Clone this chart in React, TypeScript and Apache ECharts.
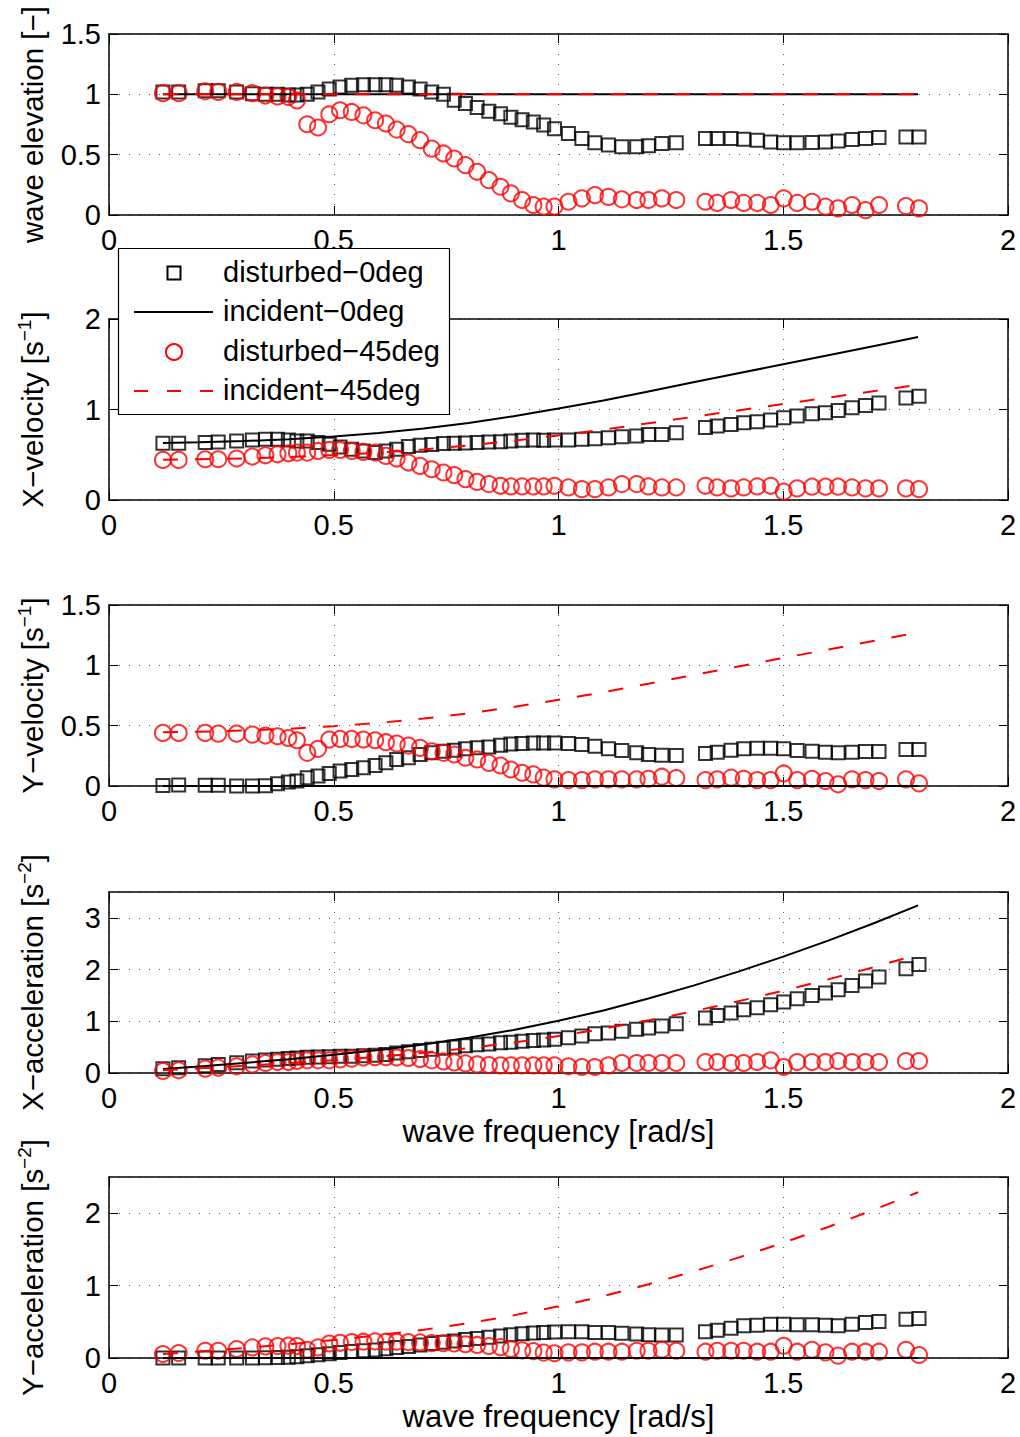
import React, { useEffect, useRef } from 'react';
import * as echarts from 'echarts';

// ---------------- data ----------------
const freq = [
  0.12, 0.155, 0.214, 0.243, 0.284, 0.319, 0.348, 0.375, 0.399, 0.418,
  0.441, 0.465, 0.49, 0.514, 0.54, 0.566, 0.592, 0.616, 0.64, 0.666,
  0.692, 0.718, 0.744, 0.768, 0.793, 0.819, 0.845, 0.871, 0.894, 0.919,
  0.944, 0.967, 0.991, 1.022, 1.052, 1.081, 1.111, 1.141, 1.174, 1.2,
  1.23, 1.262, 1.327, 1.353, 1.384, 1.412, 1.442, 1.472, 1.501, 1.531,
  1.564, 1.594, 1.622, 1.653, 1.683, 1.713, 1.773, 1.802,
];

const elevDist0 = [
  1.02, 1.02, 1.03, 1.03, 1.02, 1.005, 1.0, 1.0, 0.995, 0.995,
  1.0, 1.02, 1.045, 1.06, 1.075, 1.08, 1.08, 1.08, 1.075, 1.06,
  1.045, 1.02, 1.0, 0.95, 0.925, 0.89, 0.86, 0.84, 0.81, 0.79,
  0.77, 0.745, 0.715, 0.675, 0.634, 0.598, 0.58, 0.565, 0.565, 0.573,
  0.592, 0.598, 0.634, 0.634, 0.634, 0.628, 0.62, 0.606, 0.598, 0.598,
  0.6, 0.606, 0.614, 0.625, 0.634, 0.642, 0.647, 0.647,
];
const elevDist45 = [
  1.01, 1.01, 1.025, 1.02, 1.02, 1.01, 0.99, 0.983, 0.978, 0.95,
  0.752, 0.725, 0.835, 0.868, 0.854, 0.826, 0.785, 0.758, 0.708, 0.67,
  0.62, 0.55, 0.51, 0.468, 0.413, 0.358, 0.289, 0.234, 0.179, 0.124,
  0.083, 0.069, 0.07, 0.11, 0.138, 0.165, 0.15, 0.13, 0.124, 0.124,
  0.138, 0.124, 0.11, 0.1, 0.124, 0.1, 0.1, 0.083, 0.138, 0.1,
  0.11, 0.069, 0.055, 0.083, 0.04, 0.083, 0.074, 0.055,
];
const xVelDist0 = [
  0.626, 0.626, 0.634, 0.641, 0.652, 0.663, 0.67, 0.67, 0.663, 0.652,
  0.652, 0.634, 0.615, 0.586, 0.56, 0.542, 0.524, 0.542, 0.56, 0.59,
  0.604, 0.612, 0.623, 0.626, 0.63, 0.634, 0.641, 0.645, 0.652, 0.66,
  0.663, 0.66, 0.663, 0.663, 0.67, 0.678, 0.689, 0.7, 0.707, 0.725,
  0.725, 0.744, 0.8, 0.817, 0.835, 0.853, 0.864, 0.883, 0.908, 0.927,
  0.952, 0.963, 0.989, 1.018, 1.044, 1.073, 1.128, 1.147,
];
const xVelDist45 = [
  0.443, 0.443, 0.45, 0.45, 0.458, 0.48, 0.494, 0.505, 0.516, 0.524,
  0.524, 0.542, 0.553, 0.553, 0.542, 0.531, 0.524, 0.487, 0.458, 0.414,
  0.377, 0.34, 0.304, 0.275, 0.231, 0.2, 0.176, 0.157, 0.15, 0.15,
  0.15, 0.15, 0.157, 0.139, 0.12, 0.12, 0.139, 0.176, 0.176, 0.15,
  0.139, 0.139, 0.157, 0.139, 0.128, 0.139, 0.15, 0.157, 0.092, 0.128,
  0.147, 0.147, 0.147, 0.139, 0.128, 0.128, 0.128, 0.12,
];
const yVelDist0 = [
  0.005, 0.008, 0.006, 0.006, 0, 0, 0.003, 0.019, 0.033, 0.041,
  0.069, 0.082, 0.104, 0.124, 0.137, 0.151, 0.17, 0.192, 0.22, 0.234,
  0.261, 0.275, 0.288, 0.297, 0.308, 0.316, 0.324, 0.338, 0.349, 0.352,
  0.357, 0.357, 0.357, 0.352, 0.343, 0.33, 0.308, 0.294, 0.275, 0.261,
  0.255, 0.253, 0.269, 0.28, 0.297, 0.308, 0.313, 0.313, 0.308, 0.294,
  0.288, 0.28, 0.275, 0.28, 0.286, 0.286, 0.302, 0.302,
];
const yVelDist45 = [
  0.44, 0.44, 0.44, 0.434, 0.434, 0.426, 0.418, 0.412, 0.398, 0.379,
  0.275, 0.308, 0.385, 0.39, 0.39, 0.385, 0.379, 0.363, 0.352, 0.335,
  0.316, 0.288, 0.275, 0.261, 0.234, 0.22, 0.192, 0.17, 0.137, 0.11,
  0.096, 0.069, 0.055, 0.049, 0.049, 0.055, 0.055, 0.055, 0.055, 0.06,
  0.077, 0.066, 0.049, 0.055, 0.069, 0.06, 0.049, 0.049, 0.104, 0.049,
  0.06, 0.041, 0.014, 0.055, 0.049, 0.041, 0.055, 0.022,
];
const xAccDist0 = [
  0.08, 0.1, 0.142, 0.162, 0.2, 0.23, 0.25, 0.265, 0.282, 0.292,
  0.305, 0.31, 0.315, 0.322, 0.325, 0.335, 0.345, 0.36, 0.385, 0.41,
  0.435, 0.458, 0.48, 0.505, 0.528, 0.548, 0.563, 0.583, 0.597, 0.615,
  0.628, 0.64, 0.652, 0.683, 0.715, 0.76, 0.773, 0.805, 0.844, 0.869,
  0.908, 0.953, 1.062, 1.114, 1.159, 1.223, 1.262, 1.32, 1.372, 1.436,
  1.5, 1.545, 1.61, 1.693, 1.777, 1.854, 2.015, 2.099,
];
const xAccDist45 = [
  0.039, 0.052, 0.084, 0.103, 0.129, 0.167, 0.193, 0.212, 0.212, 0.232,
  0.245, 0.245, 0.245, 0.264, 0.277, 0.3, 0.305, 0.305, 0.3, 0.29,
  0.27, 0.245, 0.225, 0.205, 0.185, 0.167, 0.155, 0.148, 0.148, 0.148,
  0.148, 0.148, 0.148, 0.129, 0.116, 0.116, 0.148, 0.193, 0.193, 0.193,
  0.193, 0.193, 0.212, 0.212, 0.193, 0.193, 0.212, 0.245, 0.116, 0.212,
  0.212, 0.212, 0.232, 0.212, 0.212, 0.212, 0.232, 0.232,
];
const yAccDist0 = [
  0, 0, 0, 0, 0, 0, 0.002, 0.006, 0.012, 0.018,
  0.032, 0.045, 0.06, 0.075, 0.09, 0.1, 0.112, 0.128, 0.145, 0.16,
  0.18, 0.2, 0.218, 0.235, 0.255, 0.27, 0.285, 0.305, 0.32, 0.335,
  0.345, 0.352, 0.36, 0.362, 0.362, 0.352, 0.352, 0.343, 0.33, 0.32,
  0.316, 0.316, 0.362, 0.384, 0.412, 0.444, 0.453, 0.467, 0.467, 0.458,
  0.458, 0.453, 0.444, 0.467, 0.49, 0.503, 0.535, 0.545,
];
const yAccDist45 = [
  0.055, 0.069, 0.1, 0.1, 0.124, 0.146, 0.16, 0.165, 0.17, 0.165,
  0.114, 0.146, 0.2, 0.21, 0.22, 0.225, 0.23, 0.225, 0.225, 0.22,
  0.215, 0.206, 0.204, 0.2, 0.19, 0.18, 0.165, 0.15, 0.125, 0.105,
  0.095, 0.075, 0.065, 0.078, 0.078, 0.087, 0.087, 0.087, 0.1, 0.1,
  0.114, 0.1, 0.087, 0.1, 0.1, 0.1, 0.087, 0.087, 0.169, 0.087,
  0.114, 0.078, 0.032, 0.087, 0.087, 0.087, 0.114, 0.041,
];

// incident (theory) curves
const lineFreq = [0.12, 0.2, 0.3, 0.4, 0.5, 0.6, 0.7, 0.8, 0.9, 1.0, 1.1, 1.2, 1.3, 1.4, 1.5, 1.6, 1.7, 1.8];
const elevInc0 = [1, 1, 1, 1, 1, 1, 1, 1, 1, 1, 1, 1, 1, 1, 1, 1, 1, 1];
const elevInc45 = [1, 1, 1, 1, 1, 1, 1, 1, 1, 1, 1, 1, 1, 1, 1, 1, 1, 1];
const xVelInc0 = [0.63, 0.637, 0.651, 0.671, 0.702, 0.74, 0.79, 0.851, 0.926, 1.01, 1.1, 1.2, 1.3, 1.4, 1.5, 1.6, 1.7, 1.8];
const vel45Inc = [0.445, 0.45, 0.46, 0.474, 0.496, 0.523, 0.559, 0.602, 0.655, 0.714, 0.778, 0.848, 0.919, 0.99, 1.061, 1.131, 1.202, 1.273];
const yVelInc0 = [0, 0, 0, 0, 0, 0, 0, 0, 0, 0, 0, 0, 0, 0, 0, 0, 0, 0];
const xAccInc0 = [0.076, 0.127, 0.195, 0.268, 0.351, 0.444, 0.553, 0.681, 0.833, 1.01, 1.21, 1.44, 1.69, 1.96, 2.25, 2.56, 2.89, 3.24];
const acc45Inc = [0.054, 0.09, 0.138, 0.19, 0.248, 0.314, 0.391, 0.481, 0.589, 0.714, 0.855, 1.018, 1.195, 1.386, 1.591, 1.81, 2.043, 2.29];
const yAccInc0 = [0, 0, 0, 0, 0, 0, 0, 0, 0, 0, 0, 0, 0, 0, 0, 0, 0, 0];

const seriesNames = ['disturbed−0deg', 'incident−0deg', 'disturbed−45deg', 'incident−45deg'];
const yTitles = [
  '{n|wave elevation [−]}',
  '{n|X−velocity [s}{s|−1}{n|]}',
  '{n|Y−velocity [s}{s|−1}{n|]}',
  '{n|X−acceleration [s}{s|−2}{n|]}',
  '{n|Y−acceleration [s}{s|−2}{n|]}',
];
const xTitle = 'wave frequency [rad/s]';
const xTicks = { min: 0, max: 2, interval: 0.5 };
const yMax = [1.5, 2, 1.5, 3.5, 2.5];
const yStep = [0.5, 1, 0.5, 1, 1];

const panels = [
  { d0: elevDist0, i0: elevInc0, d45: elevDist45, i45: elevInc45 },
  { d0: xVelDist0, i0: xVelInc0, d45: xVelDist45, i45: vel45Inc },
  { d0: yVelDist0, i0: yVelInc0, d45: yVelDist45, i45: vel45Inc },
  { d0: xAccDist0, i0: xAccInc0, d45: xAccDist45, i45: acc45Inc },
  { d0: yAccDist0, i0: yAccInc0, d45: yAccDist45, i45: acc45Inc },
];

// ---------------- layout / style ----------------
const FONT = "'Liberation Sans', Arial, Helvetica, sans-serif";
const FS = 29;
const gridTops = [34, 319, 605, 892, 1177];
const GRID_H = 181;
const GRID_LEFT = 109;
const GRID_RIGHT = 12;
const DASH = [15, 17];

const pairs = (xs: number[], ys: number[]) => xs.map((x, i) => [x, ys[i]]);

function buildOption() {
  const grid = gridTops.map((top) => ({ left: GRID_LEFT, right: GRID_RIGHT, top, height: GRID_H }));
  const axisLine = { show: true, onZero: false, lineStyle: { color: '#000', width: 1.5 } };
  const axisTick = { show: true, inside: true, length: 9, lineStyle: { color: '#000', width: 1 } };
  const splitLine = { show: true, lineStyle: { color: '#555', width: 1, type: [1, 9] } };
  const labelStyle = { color: '#000', fontSize: FS, fontFamily: FONT };

  const xAxis: any[] = [];
  const yAxis: any[] = [];
  gridTops.forEach((_, i) => {
    xAxis.push({
      type: 'value', gridIndex: i, position: 'bottom', ...xTicks,
      axisLine, axisTick, splitLine,
      axisLabel: { ...labelStyle, margin: 10, showMinLabel: true, showMaxLabel: true },
      name: i >= 3 ? xTitle : '',
      nameLocation: 'middle', nameGap: 43,
      nameTextStyle: { ...labelStyle, fontSize: 31 },
    });
  });
  gridTops.forEach((_, i) => {
    xAxis.push({
      type: 'value', gridIndex: i, position: 'top', ...xTicks,
      axisLine, axisTick, splitLine: { show: false }, axisLabel: { show: false },
    });
  });
  gridTops.forEach((_, i) => {
    yAxis.push({
      type: 'value', gridIndex: i, position: 'left', min: 0, max: yMax[i], interval: yStep[i],
      axisLine, axisTick, splitLine,
      axisLabel: { ...labelStyle, margin: 8, showMinLabel: true, showMaxLabel: i < 3 },
      name: yTitles[i], nameLocation: 'middle', nameRotate: 90, nameGap: 60,
      nameTextStyle: {
        ...labelStyle,
        rich: {
          n: { fontSize: 29.5, fontFamily: FONT, color: '#000', lineHeight: 34 },
          s: { fontSize: 19, fontFamily: FONT, color: '#000', verticalAlign: 'top', lineHeight: 22 },
        },
      },
    });
  });
  gridTops.forEach((_, i) => {
    yAxis.push({
      type: 'value', gridIndex: i, position: 'right', min: 0, max: yMax[i], interval: yStep[i],
      axisLine, axisTick, splitLine: { show: false }, axisLabel: { show: false },
    });
  });

  const series: any[] = [];
  panels.forEach((p, i) => {
    series.push({
      type: 'scatter', name: seriesNames[0], xAxisIndex: i, yAxisIndex: i,
      data: pairs(freq, p.d0), symbol: 'rect', symbolSize: 13, silent: true,
      itemStyle: { color: 'rgba(0,0,0,0)', borderColor: '#000', borderWidth: 2 },
    });
    series.push({
      type: 'line', name: seriesNames[1], xAxisIndex: i, yAxisIndex: i,
      data: pairs(lineFreq, p.i0), showSymbol: false, symbol: 'none', silent: true,
      smooth: false,
      lineStyle: { color: '#000', width: 2 },
    });
    series.push({
      type: 'scatter', name: seriesNames[2], xAxisIndex: i, yAxisIndex: i,
      data: pairs(freq, p.d45), symbol: 'circle', symbolSize: 16, silent: true,
      itemStyle: { color: 'rgba(0,0,0,0)', borderColor: '#ff0000', borderWidth: 2 },
    });
    series.push({
      type: 'line', name: seriesNames[3], xAxisIndex: i, yAxisIndex: i,
      data: pairs(lineFreq, p.i45), showSymbol: false, symbol: 'none', silent: true,
      smooth: false,
      lineStyle: { color: '#ff0000', width: 2, type: DASH },
    });
  });

  // legend box (drawn as graphics to mimic the MATLAB legend)
  const LX = 118.5, LY = 248.5, LW = 331, LH = 166;
  const rows = [273, 312, 352, 391];
  const iconX = 174, lineX0 = 134, lineX1 = 213, textX = 223;
  const graphic: any[] = [
    { type: 'rect', z: 100, shape: { x: LX, y: LY, width: LW, height: LH }, style: { fill: '#fff', stroke: '#000', lineWidth: 1.2 } },
    { type: 'rect', z: 101, shape: { x: iconX - 6.5, y: rows[0] - 6.5, width: 13, height: 13 }, style: { fill: 'none', stroke: '#000', lineWidth: 2 } },
    { type: 'line', z: 101, shape: { x1: lineX0, y1: rows[1], x2: lineX1, y2: rows[1] }, style: { stroke: '#000', lineWidth: 2 } },
    { type: 'circle', z: 101, shape: { cx: iconX, cy: rows[2], r: 8 }, style: { fill: 'none', stroke: '#ff0000', lineWidth: 2 } },
    { type: 'line', z: 101, shape: { x1: lineX0, y1: rows[3], x2: lineX1, y2: rows[3] }, style: { stroke: '#ff0000', lineWidth: 2, lineDash: [14, 19] } },
  ];
  seriesNames.forEach((name, k) => {
    graphic.push({
      type: 'text', z: 101, x: textX, y: rows[k] - 1,
      style: { text: name, fill: '#000', font: `${FS}px ${FONT}`, textAlign: 'left', textVerticalAlign: 'middle' },
    });
  });

  return {
    animation: false,
    backgroundColor: '#fff',
    textStyle: { fontFamily: FONT },
    grid, xAxis, yAxis, series, graphic,
  };
}

export default function App() {
  const ref = useRef<HTMLDivElement>(null);
  useEffect(() => {
    document.body.style.margin = '0';
    if (!ref.current) return;
    const chart = echarts.init(ref.current, undefined, { renderer: 'svg' });
    chart.setOption(buildOption() as any);
    return () => chart.dispose();
  }, []);
  return <div ref={ref} style={{ width: 1020, height: 1437, background: '#fff' }} />;
}
